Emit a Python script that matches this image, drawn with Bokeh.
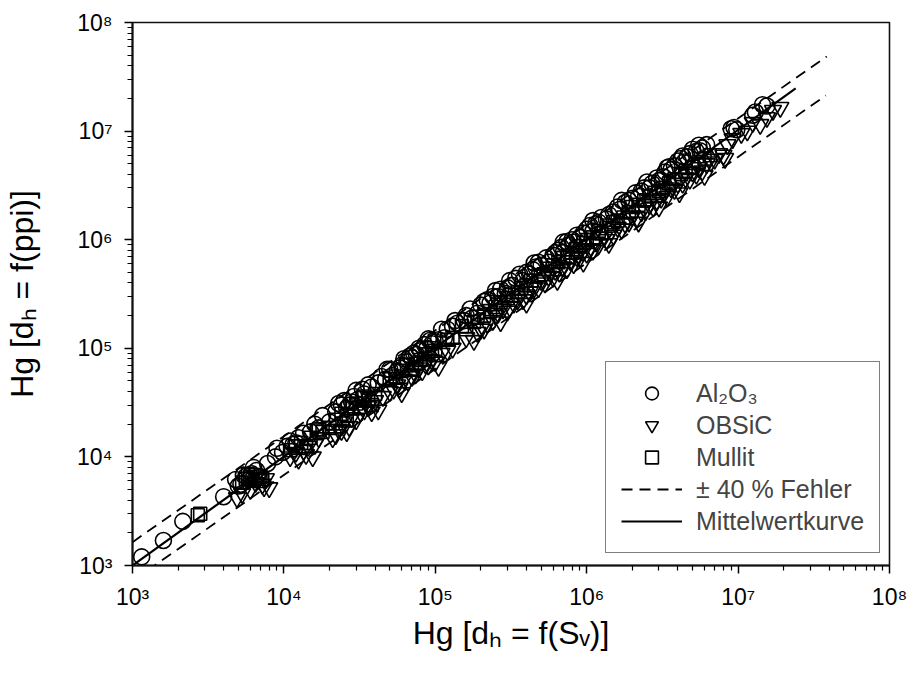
from bokeh.plotting import figure
from bokeh.models import Legend, LegendItem, FixedTicker, CustomJSTickFormatter
from bokeh.embed import file_html
from bokeh.resources import INLINE

# ---- data ----
al_x = [1150, 1600, 2150, 4000, 4800, 5200, 5600, 6100, 6600, 7800, 8800, 9800, 10500, 11500,
        12500, 13500, 15000, 17000, 20000, 22000, 24000, 26000, 28000, 31000, 34000, 38000,
        42000, 47000, 52000, 56000, 60000, 65000, 70000, 75000, 80000, 88000, 95000, 105000,
        115000, 130000, 140000, 155000, 175000, 190000, 210000, 230000, 260000, 290000, 320000,
        340000, 380000, 420000, 460000, 500000, 560000, 600000, 650000, 700000, 760000, 820000,
        900000, 1000000, 1100000, 1200000, 1350000, 1500000, 1650000, 1800000, 2000000, 2200000,
        2400000, 2700000, 3000000, 3300000, 3600000, 4000000, 4400000, 4800000, 5300000, 5800000,
        9000000, 9800000, 12500000, 14500000, 15500000,
        5000, 5400, 5900, 11000, 12000, 16000, 23000, 25000, 27000, 29000, 33000, 36000, 44000,
        50000, 58000, 62000, 68000, 72000, 78000, 85000, 92000, 100000, 120000, 135000, 160000,
        200000, 220000, 240000, 270000, 300000, 360000, 400000, 440000, 480000, 540000, 620000,
        680000, 740000, 800000, 860000, 950000, 1050000, 1150000, 1250000, 1400000, 1600000,
        1900000, 2100000, 2300000, 2600000, 2900000, 3200000, 3500000, 3800000, 4200000, 4600000,
        5000000, 5600000, 6200000, 9400000, 13000000,
        6300, 9000, 18000, 30000, 48000, 90000, 110000, 170000, 250000, 310000, 450000, 700000,
        1100000, 1700000, 2500000, 3400000, 4300000, 5500000]
al_y = [1200, 1700, 2550, 4300, 6200, 5600, 6600, 7000, 7500, 8700, 10000, 11000, 12500, 13000,
        15000, 16500, 17000, 18500, 21000, 26000, 30000, 28000, 32000, 34000, 38000, 44000,
        48000, 52000, 56000, 62000, 70000, 75000, 82000, 88000, 95000, 100000, 110000, 120000,
        125000, 160000, 170000, 180000, 190000, 210000, 270000, 260000, 300000, 320000, 380000,
        440000, 420000, 480000, 560000, 580000, 620000, 720000, 800000, 760000, 900000, 950000,
        1050000, 1250000, 1200000, 1450000, 1550000, 1800000, 1900000, 2200000, 2400000, 2500000,
        3000000, 3300000, 3500000, 4200000, 4400000, 5300000, 5200000, 6200000, 6500000, 7000000,
        10500000, 10300000, 14000000, 17500000, 17000000,
        5400, 6800, 6200, 14000, 13500, 20000, 31000, 33000, 30000, 36000, 42000, 46000, 55000,
        64000, 66000, 80000, 85000, 90000, 100000, 108000, 118000, 115000, 150000, 180000, 200000,
        250000, 280000, 300000, 350000, 360000, 480000, 500000, 530000, 620000, 680000, 760000,
        850000, 960000, 1000000, 1100000, 1150000, 1350000, 1400000, 1600000, 1700000, 2000000,
        2300000, 2700000, 2800000, 3000000, 3700000, 3800000, 4700000, 4800000, 5600000, 5800000,
        6800000, 6600000, 7500000, 10800000, 15000000,
        8000, 12000, 24000, 41000, 64000, 122000, 150000, 230000, 340000, 420000, 610000, 950000,
        1500000, 2300000, 3400000, 4600000, 5900000, 7400000]

ob_x = [4900, 6500, 7200, 7600, 11000, 12000, 13500, 14500, 17000, 22000, 23000, 25000, 28000,
        32000, 36000, 40000, 50000, 56000, 62000, 70000, 78000, 86000, 95000, 110000, 130000,
        160000, 200000, 220000, 250000, 280000, 310000, 350000, 400000, 450000, 500000, 560000,
        620000, 700000, 780000, 860000, 950000, 1050000, 1150000, 1300000, 1450000, 1600000,
        1800000, 2000000, 2300000, 2600000, 2900000, 3200000, 3600000, 4000000, 4500000, 5000000,
        5500000, 6200000, 7000000, 8000000, 9200000, 10500000, 11500000, 15500000, 19000000,
        5300, 6000, 6800, 7400, 12500, 14000, 16000, 21000, 24000, 27000, 30000, 34000, 38000,
        45000, 53000, 58000, 66000, 74000, 82000, 90000, 100000, 120000, 190000, 210000, 240000,
        260000, 300000, 330000, 380000, 420000, 480000, 530000, 600000, 660000, 740000, 820000,
        900000, 1000000, 1100000, 1200000, 1350000, 1500000, 1700000, 1900000, 2150000, 2450000,
        2750000, 3100000, 3400000, 3800000, 4300000, 4800000, 5300000, 5800000, 6600000, 7500000,
        8500000, 12500000, 14000000, 17000000,
        8000, 15500, 26000, 42000, 60000, 105000, 180000, 270000, 400000, 640000, 950000,
        1400000, 2200000, 3000000, 4100000, 6000000, 8200000]
ob_y = [4200, 5800, 5600, 6300, 10000, 11000, 11500, 12500, 15000, 16000, 18000, 21000, 23000,
        26000, 29000, 33000, 40000, 46000, 52000, 55000, 66000, 72000, 78000, 90000, 100000,
        125000, 150000, 170000, 200000, 230000, 240000, 280000, 310000, 360000, 420000, 460000,
        520000, 560000, 640000, 700000, 780000, 820000, 950000, 1050000, 1200000, 1300000,
        1400000, 1650000, 1800000, 2100000, 2300000, 2700000, 3000000, 3300000, 3700000, 4200000,
        4600000, 5000000, 5500000, 6000000, 8500000, 9500000, 10000000, 13300000, 16500000,
        4600, 5000, 6200, 5300, 9500, 10500, 13000, 15000, 17500, 19000, 22000, 27000, 26000,
        36000, 42000, 43000, 50000, 58000, 62000, 70000, 75000, 95000, 140000, 150000, 180000,
        210000, 220000, 260000, 280000, 330000, 360000, 400000, 450000, 500000, 540000, 600000,
        680000, 750000, 800000, 900000, 1000000, 1100000, 1250000, 1450000, 1600000, 1850000,
        2000000, 2400000, 2500000, 2900000, 3300000, 3600000, 4000000, 4300000, 5200000, 6200000,
        7500000, 12000000, 11500000, 15500000,
        5200, 10000, 17000, 27000, 39000, 68000, 118000, 175000, 260000, 420000, 620000,
        920000, 1450000, 2000000, 2700000, 3900000, 5600000]

mu_x = [2700, 2800, 5600, 6000, 6500, 7000, 6800, 12000, 15000, 16500, 18000, 24000, 26000,
        30000, 33000, 36000, 38000, 55000, 60000, 70000, 80000, 90000, 100000, 150000, 180000,
        210000, 250000, 300000, 350000, 400000, 480000, 550000, 650000, 750000, 850000, 950000,
        1100000, 1250000, 1400000, 1600000, 1900000, 2200000, 2600000, 3000000, 3500000, 4200000,
        5000000, 6000000, 6500000,
        5300, 5800, 6200, 7200, 11000, 13000, 14000, 17000, 20000, 22000, 28000, 32000, 34000,
        40000, 50000, 65000, 75000, 85000, 95000, 120000, 130000, 160000, 190000, 230000, 270000,
        320000, 370000, 430000, 520000, 600000, 700000, 800000, 900000, 1000000, 1200000, 1500000,
        1750000, 2000000, 2400000, 2800000, 3200000, 3800000, 4500000, 5500000]
mu_y = [2900, 3000, 6300, 6500, 6800, 6600, 6000, 12500, 15000, 17500, 17000, 25000, 24000,
        31000, 35000, 33000, 30000, 55000, 62000, 65000, 78000, 88000, 95000, 160000, 175000,
        200000, 240000, 290000, 330000, 380000, 470000, 540000, 620000, 700000, 820000, 930000,
        1050000, 1150000, 1350000, 1500000, 1800000, 2100000, 2500000, 2800000, 3300000, 4000000,
        4700000, 5600000, 6000000,
        5800, 6900, 6100, 6300, 11500, 13500, 12500, 18000, 18500, 22000, 28000, 29000, 36000,
        38000, 52000, 70000, 72000, 80000, 100000, 120000, 125000, 150000, 195000, 220000, 265000,
        310000, 360000, 420000, 480000, 580000, 680000, 760000, 870000, 990000, 1200000, 1450000,
        1600000, 2000000, 2300000, 2700000, 3000000, 3600000, 4300000, 5200000]

upper_x = [1e3, 3.85e7]
upper_y = [1.64e3, 4.87e7]
lower_x = [1e3, 3.8e7]
lower_y = [7.2e2, 2.13e7]
mean_x = [1e3, 2.4e7]
mean_y = [1e3, 2.47e7]

tick_values = [1e3, 1e4, 1e5, 1e6, 1e7, 1e8]
tick_labels = ["10³", "10⁴", "10⁵", "10⁶", "10⁷", "10⁸"]
legend_labels = ["Al₂O₃", "OBSiC", "Mullit", "± 40 % Fehler", "Mittelwertkurve"]
x_title = "Hg [dₕ = f(Sᵥ)]"
y_title = "Hg [dₕ = f(ppi)]"

FONT = "Liberation Sans"

p = figure(width=908, height=673, x_axis_type="log", y_axis_type="log",
           x_range=(1e3, 1e8), y_range=(1e3, 1e8),
           output_backend="svg", toolbar_location=None,
           min_border_left=132, min_border_right=19, min_border_top=22, min_border_bottom=108)
p.background_fill_color = "white"
p.border_fill_color = "white"
p.outline_line_color = "#111111"
p.outline_line_width = 1.6
p.xgrid.visible = False
p.ygrid.visible = False

r_al = p.scatter(al_x, al_y, marker="circle", size=16, fill_color=None,
                 line_color="black", line_width=1.6)
r_ob = p.scatter(ob_x, ob_y, marker="inverted_triangle", size=17, fill_color=None,
                 line_color="black", line_width=1.6)
r_mu = p.scatter(mu_x, mu_y, marker="square", size=13, fill_color=None,
                 line_color="black", line_width=1.6)
r_up = p.line(upper_x, upper_y, line_color="black", line_width=1.8, line_dash="11 7")
p.line(lower_x, lower_y, line_color="black", line_width=1.8, line_dash="11 7")
r_mean = p.line(mean_x, mean_y, line_color="black", line_width=2.2)

formatter = CustomJSTickFormatter(args=dict(vals=tick_values, labs=tick_labels), code="""
    for (let i = 0; i < vals.length; i++) {
        if (Math.abs(Math.log10(vals[i]) - Math.log10(tick)) < 1e-6) { return labs[i]; }
    }
    return "";
""")
minor = [m * 10 ** k for k in range(3, 8) for m in range(2, 10)]
for ax in (p.xaxis[0], p.yaxis[0]):
    ax.ticker = FixedTicker(ticks=tick_values, minor_ticks=minor)
    ax.formatter = formatter
    ax.axis_line_width = 2
    ax.axis_line_color = "#111111"
    ax.major_tick_out = 8
    ax.major_tick_in = 0
    ax.minor_tick_out = 5
    ax.minor_tick_in = 0
    ax.major_tick_line_width = 1.5
    ax.minor_tick_line_width = 1.2
    ax.major_label_text_font = FONT
    ax.major_label_text_font_size = "23px"
    ax.major_label_text_color = "black"
    ax.axis_label_text_font = FONT
    ax.axis_label_text_font_size = "32px"
    ax.axis_label_text_font_style = "normal"
    ax.axis_label_text_color = "black"

p.xaxis.axis_label = x_title
p.yaxis.axis_label = y_title
p.xaxis.major_label_standoff = 10
p.yaxis.major_label_standoff = 12
p.xaxis.axis_label_standoff = 2
p.yaxis.axis_label_standoff = 34

renderers = [r_al, r_ob, r_mu, r_up, r_mean]
legend = Legend(items=[LegendItem(label=l, renderers=[r]) for l, r in zip(legend_labels, renderers)],
                location=(473, 12), margin=0, padding=15, spacing=0,
                glyph_width=61, glyph_height=32, label_height=32, label_standoff=14,
                label_text_font=FONT, label_text_font_size="25px",
                border_line_color="black", border_line_width=1.2,
                background_fill_color="white", background_fill_alpha=1.0)
p.add_layout(legend)

open("out.html", "w").write(file_html(p, INLINE))
